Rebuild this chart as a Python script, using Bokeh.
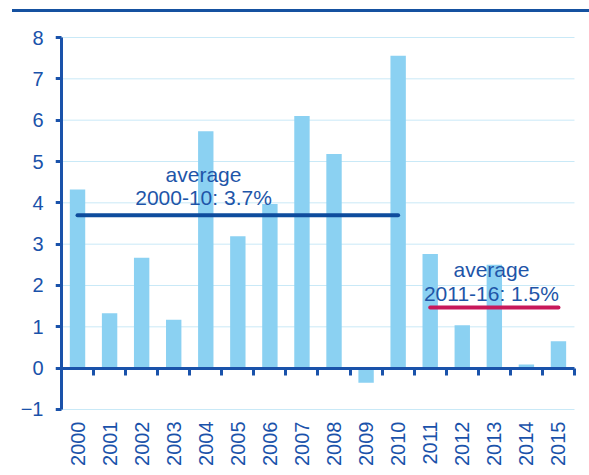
from bokeh.plotting import figure
from bokeh.models import Range1d, FixedTicker, LinearAxis, Label, Div, ColumnDataSource
from bokeh.layouts import column
from bokeh.embed import file_html
from bokeh.resources import INLINE
import math

# ---- data ----
years = ["2000", "2001", "2002", "2003", "2004", "2005", "2006", "2007",
         "2008", "2009", "2010", "2011", "2012", "2013", "2014", "2015"]
growth = [4.32, 1.33, 2.67, 1.17, 5.73, 3.19, 3.97, 6.10,
          5.18, -0.35, 7.56, 2.76, 1.04, 2.50, 0.09, 0.65]
y_ticks = [-1, 0, 1, 2, 3, 4, 5, 6, 7, 8]

avg1_label = ["average", "2000-10: 3.7%"]
avg1_value = 3.7
avg1_span = ("2000", "2010")
avg2_label = ["average", "2011-16: 1.5%"]
avg2_value = 1.47
avg2_span = ("2011", "2015")

# ---- styles ----
BAR = "#8BD1F2"
AXIS = "#1A52AA"
TXT = "#1E55A8"
AVG1 = "#0E4C9D"
AVG2 = "#C8185A"
GRID = "#C9E9F7"
FONT = "Liberation Sans"

idx = list(range(len(years)))
x_lo, x_hi = idx[0] - 0.5, idx[-1] + 0.5
y_lo, y_hi = y_ticks[0], y_ticks[-1]
src = ColumnDataSource(dict(x=idx, top=growth))

# small slack around the category / value extent so axis lines and ticks
# are not clipped by the plot frame
p = figure(width=589, height=463, output_backend="svg", toolbar_location=None,
           x_range=Range1d(x_lo - 0.187, x_hi + 0.094),
           y_range=Range1d(y_lo - 0.0726, y_hi + 0.0726),
           min_border_left=55, min_border_right=12, min_border_top=22,
           min_border_bottom=63, x_axis_location=None, y_axis_location=None)
p.outline_line_color = None
p.background_fill_alpha = 0
p.border_fill_alpha = 0
p.xgrid.visible = False
p.ygrid.visible = False

# horizontal grid lines, spanning the category extent
p.segment(x0=[x_lo] * len(y_ticks), x1=[x_hi] * len(y_ticks),
          y0=y_ticks, y1=y_ticks, line_color=GRID, line_width=1)

# bars
p.vbar(x="x", top="top", bottom=0, width=0.48, source=src,
       fill_color=BAR, line_color=None)

# y axis line and ticks (inside the frame)
yax = LinearAxis(ticker=FixedTicker(ticks=y_ticks), fixed_location=x_lo,
                 bounds=(y_lo, y_hi))
yax.axis_line_color = AXIS
yax.axis_line_width = 3
yax.major_tick_line_color = AXIS
yax.major_tick_line_width = 3
yax.major_tick_out = 6
yax.major_tick_in = 0
yax.minor_tick_line_color = None
yax.major_label_text_font_size = "0px"
yax.major_label_text_alpha = 0
p.add_layout(yax, "left")

# y tick labels
ylab = LinearAxis(ticker=FixedTicker(ticks=y_ticks))
ylab.axis_line_color = None
ylab.major_tick_line_color = None
ylab.minor_tick_line_color = None
ylab.major_tick_out = 0
ylab.major_tick_in = 0
ylab.major_label_text_color = AXIS
ylab.major_label_text_font = FONT
ylab.major_label_text_font_size = "20px"
ylab.major_label_standoff = 12
p.add_layout(ylab, "left")

# zero axis with ticks at category boundaries
zax = LinearAxis(ticker=FixedTicker(ticks=[i - 0.5 for i in idx] + [x_hi]),
                 fixed_location=0, bounds=(x_lo, x_hi))
zax.axis_line_color = AXIS
zax.axis_line_width = 3
zax.major_tick_line_color = AXIS
zax.major_tick_line_width = 3
zax.major_tick_out = 7
zax.major_tick_in = 0
zax.minor_tick_line_color = None
zax.major_label_text_font_size = "0px"
zax.major_label_text_alpha = 0
p.add_layout(zax, "below")

# year labels axis
xax = LinearAxis(ticker=FixedTicker(ticks=idx))
xax.major_label_overrides = {i: y for i, y in zip(idx, years)}
xax.axis_line_color = None
xax.major_tick_line_color = None
xax.minor_tick_line_color = None
xax.major_tick_out = 0
xax.major_tick_in = 0
xax.major_label_orientation = math.pi / 2
xax.major_label_text_color = AXIS
xax.major_label_text_font = FONT
xax.major_label_text_font_size = "20px"
xax.major_label_standoff = 9
p.add_layout(xax, "below")

# average lines
i0, i1 = years.index(avg1_span[0]), years.index(avg1_span[1])
p.segment(x0=[i0], y0=[avg1_value], x1=[i1], y1=[avg1_value],
          line_color=AVG1, line_width=4, line_cap="round")
j0, j1 = years.index(avg2_span[0]), years.index(avg2_span[1])
p.segment(x0=[j0], y0=[avg2_value], x1=[j1], y1=[avg2_value],
          line_color=AVG2, line_width=4, line_cap="round")

for lab, x, ys in ((avg1_label, 3.93, (4.68, 4.13)), (avg2_label, 12.91, (2.38, 1.81))):
    for t, yy in zip(lab, ys):
        p.add_layout(Label(x=x, y=yy, text=t, text_align="center",
                           text_baseline="alphabetic", text_color=TXT,
                           text_font=FONT, text_font_size="21px"))

top_rule = Div(text="", width=577, height=3, margin=(9, 0, 0, 12),
               styles={"background-color": "#1551A0"})

layout = column(top_rule, p, spacing=0)
open("out.html", "w").write(file_html(layout, INLINE))
